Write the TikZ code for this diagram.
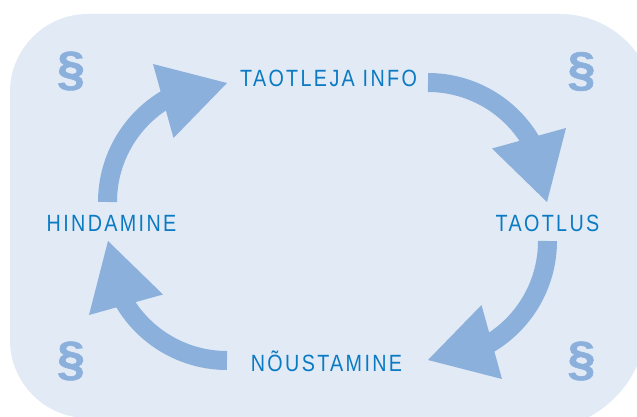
\documentclass[tikz,border=0pt]{standalone}
\usepackage{fontspec}
\setmainfont{Liberation Sans}
\newfontfamily\labelfont[FakeStretch=0.84, LetterSpace=10]{Liberation Sans}
\newfontfamily\parafont[FakeStretch=1.05, FakeBold=1.2]{Liberation Sans}

\definecolor{panelbg}{RGB}{226,234,246}
\definecolor{cyclearrow}{RGB}{139,176,220}
\definecolor{labelblue}{RGB}{10,123,194}

\tikzset{
  cyclebody/.style={draw=cyclearrow, line width=19pt, line cap=butt},
  cyclehead/.style={fill=cyclearrow},
  steplabel/.style={font=\labelfont\fontsize{23.5}{28}\selectfont, text=labelblue, anchor=base, inner sep=0pt},
  parasign/.style={font=\parafont\bfseries\fontsize{48}{56}\selectfont, text=cyclearrow, inner sep=0pt},
}

% one curved arrow of the cycle: arc centre (#1), turned by #2 degrees
\newcommand\cyclearrowat[2]{%
  \begin{scope}[shift={(#1)}, rotate=#2]
    \draw[cyclebody] (-119.5,0) arc[start angle=180, end angle=243, radius=119.5];
    \fill[cyclehead] (0,-119) -- (-74,-138) -- (-53.5,-64) -- cycle;
  \end{scope}}

\begin{document}
\begin{tikzpicture}[x=1pt, y=-1pt]
  \useasboundingbox (0,0) rectangle (637,417);
  \fill[white] (0,0) rectangle (637,417);
  \clip (0,0) rectangle (637,417);

  % rounded panel
  \fill[panelbg] (10,92) arc[start angle=180, end angle=270, radius=78]
    -- (560,14) arc[start angle=270, end angle=360, radius=95]
    -- (647,320) arc[start angle=0, end angle=90, radius=110]
    -- (88,418) arc[start angle=90, end angle=180, radius=78]
    -- cycle;

  % paragraph signs in the corners
  \node[parasign] (ptl) at (71,71) {§};
  \node[parasign] (ptr) at (581.5,71.5) {§};
  \node[parasign] (pbl) at (71,361) {§};
  \node[parasign] (pbr) at (581.5,361) {§};

  % stages of the cycle
  \node[steplabel] (info) at (328.5,87) {TAOTLEJA INFO};
  \node[steplabel] (taotlus) at (547.5,231) {TAOTLUS};
  \node[steplabel] (noustamine) at (326.5,371) {NÕUSTAMINE};
  \node[steplabel] (hindamine) at (111.5,231) {HINDAMINE};

  % arc centres of the four arrows
  \coordinate (ctl) at (227,202);
  \coordinate (ctr) at (428,202);
  \coordinate (cbr) at (428,241);
  \coordinate (cbl) at (227,241);

  \cyclearrowat{ctl}{0}
  \cyclearrowat{ctr}{-90}
  \cyclearrowat{cbr}{-180}
  \cyclearrowat{cbl}{-270}
\end{tikzpicture}
\end{document}
